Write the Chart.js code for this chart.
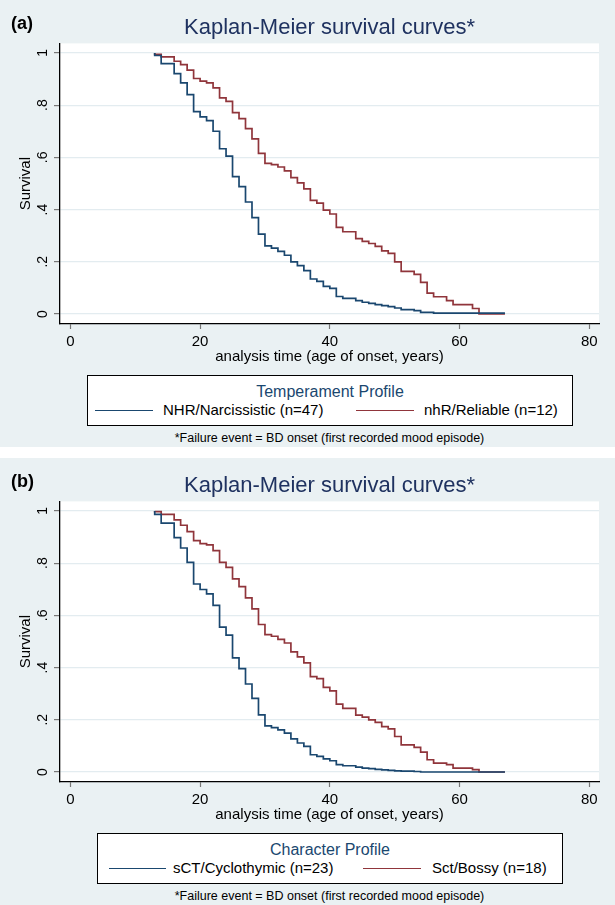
<!DOCTYPE html>
<html>
<head>
<meta charset="utf-8">
<script src="https://cdn.jsdelivr.net/npm/chart.js@4"></script>
<style>
  body { margin: 0; background: #fff; font-family: 'Liberation Sans', Arial, sans-serif; }
  .panel { position: absolute; left: 0; width: 615px; height: 447px; background: #eaf1f3; }
  .panel canvas { position: absolute; left: 0; top: 0; }
  .tag { position: absolute; left: 11px; top: 12px; font-size: 18px; line-height: 22px; font-weight: bold; color: #000; }
  .leg { position: absolute; top: 375px; height: 49px; background: #fff; border: 1px solid #000; }
  .leg .ttl { position: absolute; left: 0; right: 0; top: 6px; text-align: center; font-size: 16px; line-height: 20px; color: #1a476f; }
  .leg .ln { position: absolute; top: 34px; height: 0; border-top: 1.6px solid; }
  .leg .txt { position: absolute; top: 25px; font-size: 15px; line-height: 18px; color: #000; white-space: nowrap; }
  .note { position: absolute; left: 0; width: 659px; top: 430px; text-align: center; font-size: 12.5px; line-height: 16px; color: #000; }
</style>
</head>
<body>
<div class="panel" style="top:0">
  <canvas id="kmA" width="615" height="370"></canvas>
  <div class="tag">(a)</div>
  <div class="leg" style="left:87px;width:484px">
    <div class="ttl">Temperament Profile</div>
    <div class="ln" style="left:7px;width:58px;border-color:#1a476f"></div>
    <div class="txt" style="left:75px">NHR/Narcissistic (n=47)</div>
    <div class="ln" style="left:268px;width:58px;border-color:#90353b"></div>
    <div class="txt" style="left:336px">nhR/Reliable (n=12)</div>
  </div>
  <div class="note">*Failure event = BD onset (first recorded mood episode)</div>
</div>
<div class="panel" style="top:458px">
  <canvas id="kmB" width="615" height="370"></canvas>
  <div class="tag">(b)</div>
  <div class="leg" style="left:97px;width:464px">
    <div class="ttl">Character Profile</div>
    <div class="ln" style="left:11px;width:57px;border-color:#1a476f"></div>
    <div class="txt" style="left:75px">sCT/Cyclothymic (n=23)</div>
    <div class="ln" style="left:265px;width:58px;border-color:#90353b"></div>
    <div class="txt" style="left:334px">Sct/Bossy (n=18)</div>
  </div>
  <div class="note">*Failure event = BD onset (first recorded mood episode)</div>
</div>
<script>
// ticks
const xTicks = [0, 20, 40, 60, 80];
const yTicks = [0, 0.2, 0.4, 0.6, 0.8, 1];
const yTickLabels = ['0', '.2', '.4', '.6', '.8', '1'];

// (a) temperament profile
const narcTime = [13, 14, 16, 17, 18, 19, 20, 21, 22, 23, 24, 25, 26, 27, 28, 29, 30, 31, 32, 33, 34, 35, 36, 37, 38, 39, 40, 41, 42, 44, 45, 46, 47, 48, 49, 50, 51, 53, 54, 56, 58, 67];
const narcSurv = [1, .99, .959, .921, .885, .84, .775, .755, .741, .70, .633, .605, .526, .488, .429, .369, .306, .261, .252, .24, .225, .20, .185, .166, .134, .125, .106, .098, .067, .06, .051, .045, .041, .036, .032, .028, .023, .017, .013, .006, .003, .003];
const reliTime = [13, 14, 16, 17, 18, 19, 20, 21, 22, 23, 24, 25, 26, 27, 28, 29, 30, 31, 32, 33, 34, 35, 36, 37, 38, 39, 40, 41, 42, 44, 45, 46, 47, 48, 49, 50, 51, 53, 54, 55, 56, 58, 59, 62, 63, 67];
const reliSurv = [1, .994, .985, .968, .955, .934, .902, .892, .885, .866, .828, .814, .771, .748, .71, .671, .615, .577, .572, .563, .548, .522, .502, .479, .435, .425, .398, .383, .332, .315, .289, .278, .27, .259, .242, .232, .2, .163, .152, .121, .08, .066, .051, .036, .021, 0];

// (b) character profile
const cycTime = [13, 14, 16, 17, 18, 19, 20, 21, 22, 23, 24, 25, 26, 27, 28, 29, 30, 31, 32, 33, 34, 35, 36, 37, 38, 39, 40, 41, 42, 44, 45, 46, 47, 48, 49, 50, 51, 53, 54, 56, 67];
const cycSurv = [1, .987, .953, .898, .858, .803, .72, .699, .682, .638, .555, .524, .437, .396, .337, .282, .219, .177, .17, .161, .149, .127, .111, .098, .066, .06, .05, .043, .028, .024, .019, .015, .013, .01, .008, .006, .004, .003, .002, 0, 0];
const bossyTime = [13, 14, 16, 17, 18, 19, 20, 21, 22, 23, 24, 25, 26, 27, 28, 29, 30, 31, 32, 33, 34, 35, 36, 37, 38, 39, 40, 41, 42, 44, 45, 46, 47, 48, 49, 50, 51, 53, 54, 55, 56, 58, 59, 62, 63, 67];
const bossySurv = [1, .997, .987, .966, .945, .921, .886, .875, .87, .848, .803, .784, .74, .71, .667, .625, .565, .526, .52, .508, .494, .46, .441, .418, .365, .358, .324, .311, .26, .244, .218, .21, .2, .19, .174, .165, .136, .104, .094, .076, .047, .034, .028, .015, .009, 0];

const FONT = "'Liberation Sans', Arial, sans-serif";
const BLUE = '#1a476f', RED = '#90353b';

const plotBg = {
  id: 'plotBg',
  beforeDraw(chart) {
    const { ctx, chartArea: a } = chart;
    ctx.save();
    ctx.fillStyle = '#fff';
    ctx.fillRect(a.left, a.top, a.right - a.left, a.bottom - a.top);
    ctx.restore();
  }
};

function pts(t, s) { return t.map((v, i) => ({ x: v, y: s[i] })); }

function kmChart(id, t1, s1, t2, s2) {
  new Chart(document.getElementById(id), {
    type: 'line',
    data: {
      datasets: [
        { data: pts(t1, s1), borderColor: BLUE, borderWidth: 1.7, stepped: 'after', pointRadius: 0, fill: false },
        { data: pts(t2, s2), borderColor: RED, borderWidth: 1.7, stepped: 'after', pointRadius: 0, fill: false }
      ]
    },
    plugins: [plotBg],
    options: {
      responsive: false, animation: false, events: [],
      layout: { padding: { left: 0, right: 16, top: 0, bottom: 0 } },
      plugins: {
        legend: { display: false }, tooltip: { enabled: false },
        title: {
          display: true, fullSize: false, text: 'Kaplan-Meier survival curves*', color: '#1f3260',
          font: { family: FONT, size: 22, weight: 'normal' }, padding: { top: 15, bottom: 2 }
        }
      },
      scales: {
        x: {
          type: 'linear', min: -1.6, max: 81.5,
          afterBuildTicks: s => { s.ticks = xTicks.map(v => ({ value: v })); },
          afterFit: s => { s.height = 46; },
          grid: { drawOnChartArea: false, drawTicks: true, tickLength: 5, tickColor: '#777', tickWidth: 1.2 },
          border: { color: '#000', width: 1.3 },
          ticks: { color: '#000', font: { family: FONT, size: 15 }, padding: 4, maxRotation: 0, autoSkip: false },
          title: { display: true, text: 'analysis time (age of onset, years)', color: '#000', font: { family: FONT, size: 15 }, padding: { top: 0, bottom: 4 } }
        },
        y: {
          type: 'linear', min: -0.0383, max: 1.0364,
          afterBuildTicks: s => { s.ticks = yTicks.map(v => ({ value: v })); },
          afterFit: s => { s.width = 60; },
          grid: { color: '#e3ecf0', lineWidth: 1.2, drawTicks: true, tickLength: 6, tickColor: '#777', tickWidth: 1.2 },
          border: { color: '#000', width: 1.3 },
          ticks: {
            color: '#000', font: { family: FONT, size: 14 }, padding: 5, minRotation: 90, maxRotation: 90, crossAlign: 'center',
            callback: v => yTickLabels[yTicks.findIndex(y => Math.abs(y - v) < 1e-6)]
          },
          title: { display: true, text: 'Survival', color: '#000', font: { family: FONT, size: 15 }, padding: { top: 17, bottom: 0 } }
        }
      }
    }
  });
}

kmChart('kmA', narcTime, narcSurv, reliTime, reliSurv);
kmChart('kmB', cycTime, cycSurv, bossyTime, bossySurv);
</script>
</body>
</html>
